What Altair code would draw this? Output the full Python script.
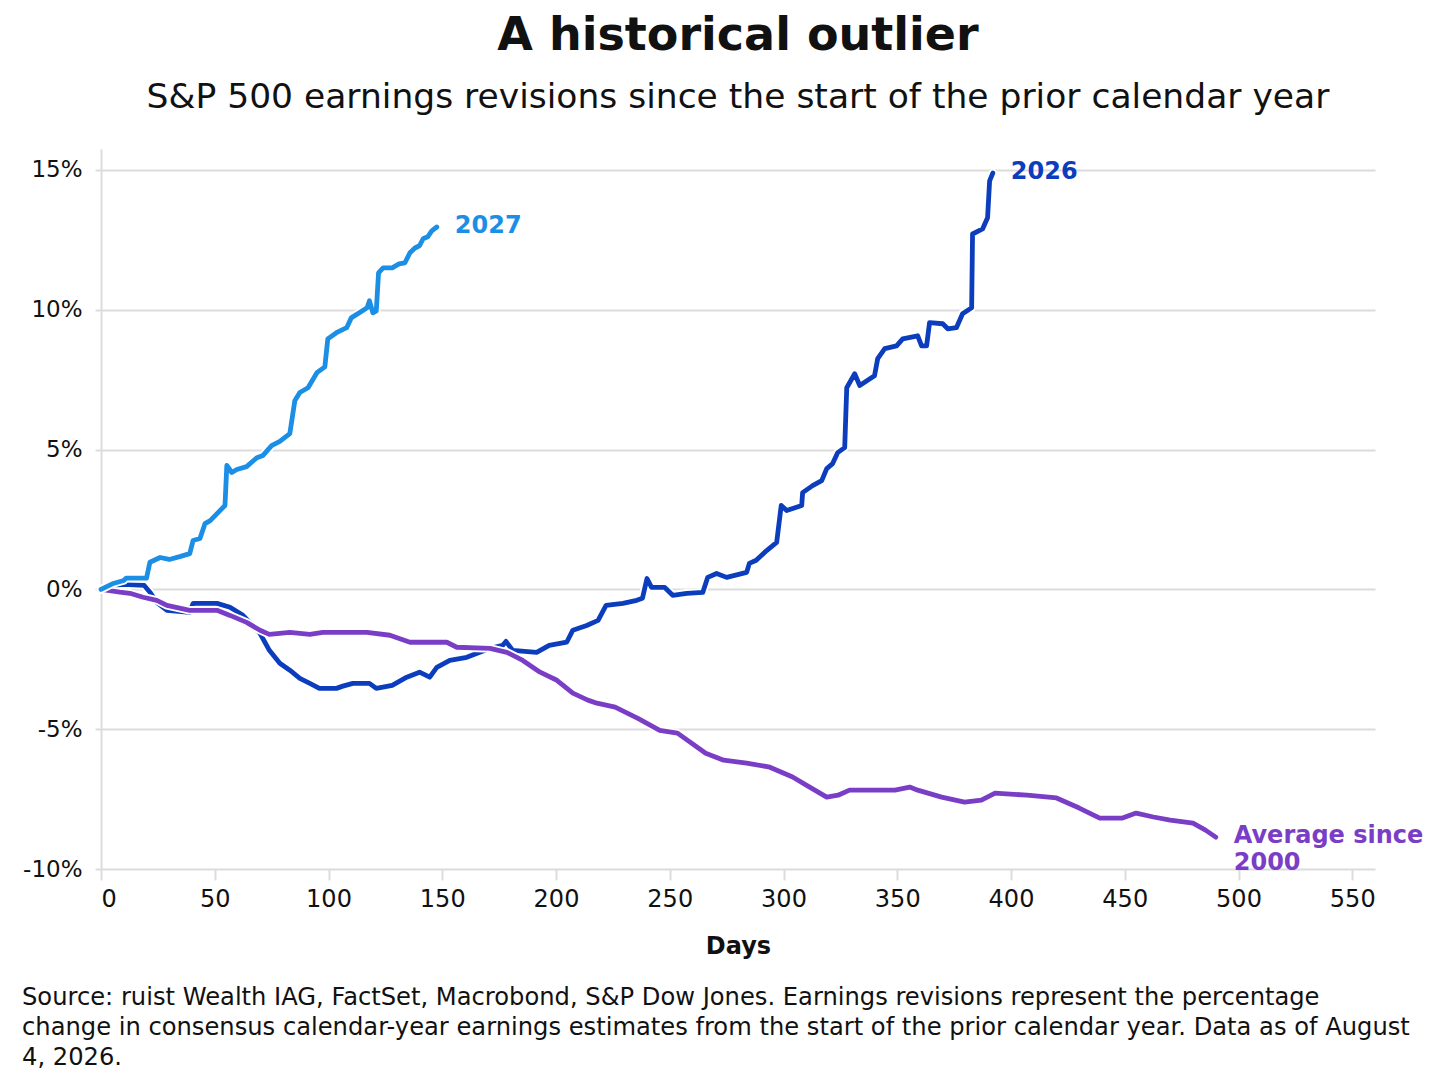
import altair as alt
import pandas as pd

# ---------------- data ----------------
days_2027 = [0, 5, 10, 11, 20, 21.5, 26, 30, 35, 39, 40.5, 43.5, 45.7, 48, 51, 54.5, 55.3, 57.5, 59.7, 64,
             68.5, 71.2, 75, 78.6, 83, 85.2, 87.4, 91, 94.9, 98.4, 99.7, 103.5, 108, 110, 117, 118, 119.5,
             121, 122, 124, 128, 131, 133.6, 135.8, 138, 140, 141.6, 143.6, 145.4, 147.6]
vals_2027 = [0, 0.2, 0.32, 0.4, 0.4, 0.97, 1.14, 1.07, 1.18, 1.28, 1.75, 1.82, 2.35, 2.46, 2.71, 3.0, 4.43,
             4.18, 4.29, 4.39, 4.71, 4.79, 5.14, 5.29, 5.57, 6.75, 7.04, 7.21, 7.75, 7.96, 8.96, 9.18, 9.36,
             9.71, 10.07, 10.32, 9.89, 9.96, 11.32, 11.5, 11.5, 11.64, 11.68, 12.04, 12.21, 12.29, 12.54,
             12.61, 12.82, 12.96]

days_2026 = [0, 5, 10, 19, 21.5, 24.5, 29, 39, 40.5, 51, 56.7, 62.4, 69.9, 74, 78.6, 83, 87.4, 91.8, 96,
             103.5, 106.3, 110.7, 118, 121, 128, 134.4, 140, 144.5, 147.6, 153.3, 160.8, 166.5, 171, 176.6,
             178, 181, 191.5, 197, 204.7, 207.4, 213.5, 218.5, 222, 229.4, 235.5, 238, 240, 242, 247.8,
             251.3, 257.5, 264.5, 266.7, 270.6, 275, 283.8, 285, 288, 292.6, 297, 299, 301.4, 308, 308.4,
             312.8, 316.8, 319, 321.6, 323.8, 326.9, 327.8, 331.3, 333.5, 340, 341.4, 344.5, 349.7, 352.4,
             359, 360.7, 362.9, 364.2, 370, 372.2, 376, 378.7, 382.7, 383.1, 387.5, 389.7, 390.6, 392]
vals_2026 = [0, 0.14, 0.18, 0.14, -0.1, -0.46, -0.75, -0.82, -0.5, -0.5, -0.64, -0.93, -1.57, -2.18, -2.64,
             -2.89, -3.18, -3.36, -3.54, -3.54, -3.46, -3.36, -3.36, -3.54, -3.43, -3.14, -2.96, -3.14,
             -2.79, -2.54, -2.43, -2.25, -2.11, -2.0, -1.86, -2.18, -2.25, -2.0, -1.89, -1.46, -1.29, -1.11,
             -0.57, -0.5, -0.39, -0.32, 0.39, 0.07, 0.07, -0.21, -0.14, -0.11, 0.43, 0.57, 0.43, 0.61, 0.93,
             1.04, 1.39, 1.68, 3.0, 2.82, 3.0, 3.46, 3.71, 3.89, 4.32, 4.5, 4.89, 5.07, 7.21, 7.71, 7.29,
             7.64, 8.25, 8.61, 8.71, 8.96, 9.07, 8.71, 8.71, 9.54, 9.5, 9.32, 9.36, 9.86, 10.07, 12.71,
             12.89, 13.29, 14.61, 14.89]

days_avg = [0, 8.3, 12.7, 18.5, 24.5, 29, 39, 51, 56.7, 64, 69.9, 74, 83, 91.8, 97.5, 116.9, 127, 135.8,
            152, 156.4, 171, 178.4, 185.4, 193, 200.4, 207.4, 214, 218, 226, 236, 245.6, 253.4, 265.8,
            273.7, 283.8, 294, 304, 311.5, 319, 324, 329, 349, 355.5, 359, 369.5, 379.6, 387, 393, 407,
            420, 430, 439, 449, 455, 462.6, 470, 480, 485.5, 490]
vals_avg = [0, -0.1, -0.14, -0.28, -0.39, -0.57, -0.75, -0.75, -0.93, -1.18, -1.46, -1.61, -1.54, -1.61,
            -1.54, -1.54, -1.64, -1.89, -1.89, -2.07, -2.11, -2.25, -2.54, -2.96, -3.25, -3.71, -3.96,
            -4.07, -4.21, -4.61, -5.04, -5.14, -5.86, -6.11, -6.21, -6.36, -6.71, -7.07, -7.43, -7.36,
            -7.18, -7.18, -7.07, -7.18, -7.43, -7.61, -7.54, -7.29, -7.36, -7.46, -7.82, -8.18, -8.18,
            -8.0, -8.14, -8.25, -8.36, -8.61, -8.86]

series_names = ["2026", "Average since 2000", "2027"]
series_labels = ["2026", "Average since\n2000", "2027"]
series_colors = ["#0b3dbd", "#7a3ec6", "#1b8ee6"]
x_ticks = [0, 50, 100, 150, 200, 250, 300, 350, 400, 450, 500, 550]
y_ticks = [-10, -5, 0, 5, 10, 15]

title_text = "A historical outlier"
subtitle_text = "S&P 500 earnings revisions since the start of the prior calendar year"
footer_text = ("Source: ruist Wealth IAG, FactSet, Macrobond, S&P Dow Jones. Earnings revisions represent the percentage\n"
               "change in consensus calendar-year earnings estimates from the start of the prior calendar year. Data as of August\n"
               "4, 2026.")

# ---------------- chart ----------------
GRID = "#dcdcdc"
FONT = "DejaVu Sans"
INK = "#111111"
W, H = 1274, 720

series_data = {
    "2026": (days_2026, vals_2026),
    "Average since 2000": (days_avg, vals_avg),
    "2027": (days_2027, vals_2027),
}

x_enc = alt.X("day:Q",
              scale=alt.Scale(domain=[0, 560], nice=False),
              axis=alt.Axis(values=x_ticks, grid=False, domain=False, tickSize=11, tickColor=GRID,
                            tickWidth=2, labelFontSize=24, labelFont=FONT, labelColor=INK,
                            labelPadding=7, title="Days", titleFont=FONT, titleFontSize=24,
                            titleFontWeight="bold", titleColor=INK, titlePadding=23))
y_enc = alt.Y("value:Q",
              scale=alt.Scale(domain=[-10, 15.75], nice=False, zero=False),
              axis=alt.Axis(values=y_ticks, labelExpr="datum.value + '%'", grid=True, gridColor=GRID,
                            gridWidth=2, domain=True, domainColor=GRID, domainWidth=2, tickSize=6,
                            tickColor=GRID, tickWidth=2, labelPadding=13, labelFontSize=23,
                            labelFont=FONT, labelColor=INK, title=None))

layers = []
for name, lab, col in zip(series_names, series_labels, series_colors):
    ds, vs = series_data[name]
    df = pd.DataFrame({"day": ds, "value": vs, "order": list(range(len(ds)))})
    base = alt.Chart(df).encode(x=x_enc, y=y_enc, order="order:Q")
    layers.append(base.mark_line(color="white", strokeWidth=8.5, strokeJoin="round", strokeCap="round"))
    layers.append(base.mark_line(color=col, strokeWidth=4.8, strokeJoin="round", strokeCap="round"))

for name, lab, col in zip(series_names, series_labels, series_colors):
    ds, vs = series_data[name]
    ldf = pd.DataFrame({"day": [ds[-1]], "value": [vs[-1]], "label": [lab]})
    layers.append(
        alt.Chart(ldf).mark_text(align="left", baseline="middle", dx=18, dy=-1, font=FONT,
                                 fontSize=24, fontWeight="bold", color=col, lineBreak="\n",
                                 lineHeight=27)
        .encode(x="day:Q", y="value:Q", text="label:N")
    )

footer = alt.Chart(pd.DataFrame({"t": [footer_text]})).mark_text(
    align="left", baseline="alphabetic", font=FONT, fontSize=24.2, color=INK,
    lineBreak="\n", lineHeight=30
).encode(x=alt.value(-79), y=alt.value(856), text="t:N")
layers.append(footer)

chart = alt.layer(*layers).properties(
    width=W, height=H,
    padding={"left": 14, "top": 4, "right": 10, "bottom": 10},
    title=alt.TitleParams(text=title_text, subtitle=subtitle_text, font=FONT, fontSize=46,
                          fontWeight="bold", color=INK, subtitleFont=FONT, subtitleFontSize=34.5,
                          subtitleColor=INK, subtitlePadding=21, anchor="middle", frame="group",
                          offset=34)
).configure(background="white").configure_view(stroke=None)

chart.save("out.html", embed_options={"renderer": "svg", "actions": False})
